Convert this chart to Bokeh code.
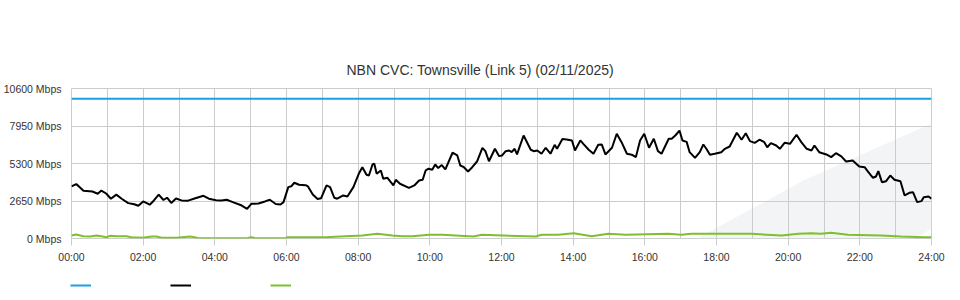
from bokeh.plotting import figure
from bokeh.layouts import column
from bokeh.models import FixedTicker, PrintfTickFormatter, Legend, LegendItem, PolyAnnotation
from bokeh.embed import file_html
from bokeh.resources import INLINE

title_text = "NBN CVC: Townsville (Link 5) (02/11/2025)"

# y axis ticks (Mbps) and x axis ticks (minutes since midnight)
y_ticks = [0, 2650, 5300, 7950, 10600]
x_tick_minutes = [0, 120, 240, 360, 480, 600, 720, 840, 960, 1080, 1200, 1320, 1440]
x_tick_labels = ["00:00", "02:00", "04:00", "06:00", "08:00", "10:00", "12:00",
                 "14:00", "16:00", "18:00", "20:00", "22:00", "24:00"]
x_grid_minutes = list(range(0, 1441, 60))

# capacity (blue)
cap_min = [0, 1440]
cap_mbps = [9870, 9870]

# download / traffic (black)
dl_min = [0, 8, 20, 35, 44, 50, 58, 66, 75, 84,
          95, 105, 112, 120, 131, 138, 146, 154, 160, 167,
          175, 184, 194, 206, 221, 230, 242, 251, 260, 270,
          283, 294, 301, 313, 324, 332, 342, 350, 355, 363,
          368, 373, 381, 392, 396, 404, 412, 418, 427, 433,
          440, 445, 455, 462, 472, 481, 487, 494, 498, 504,
          507, 511, 518, 522, 529, 539, 543, 550, 565, 574,
          582, 588, 593, 598, 604, 609, 614, 620, 626, 638,
          646, 651, 657, 664, 671, 679, 688, 693, 699, 709,
          716, 721, 727, 733, 737, 742, 746, 757, 769, 774,
          780, 787, 794, 802, 809, 813, 822, 829, 838, 843,
          852, 857, 866, 874, 882, 888, 894, 905, 913, 921,
          930, 938, 945, 952, 959, 967, 975, 982, 988, 1000,
          1005, 1011, 1018, 1023, 1030, 1035, 1044, 1052, 1058, 1063,
          1069, 1077, 1088, 1094, 1102, 1114, 1122, 1129, 1136, 1144,
          1152, 1160, 1165, 1171, 1180, 1186, 1194, 1203, 1214, 1222,
          1231, 1239, 1244, 1252, 1264, 1272, 1280, 1289, 1297, 1308,
          1319, 1328, 1333, 1342, 1347, 1351, 1357, 1364, 1371, 1378,
          1388, 1395, 1403, 1409, 1416, 1423, 1427, 1435, 1440]
dl_mbps = [3680, 3850, 3370, 3320, 3160, 3390, 3180, 2810, 3100, 2810,
           2500, 2420, 2310, 2620, 2390, 2690, 3100, 2720, 2880, 2510,
           2830, 2690, 2660, 2830, 3020, 2810, 2710, 2690, 2740, 2570,
           2370, 2090, 2450, 2470, 2620, 2740, 2440, 2400, 2570, 3630,
           3690, 3940, 3800, 3770, 3680, 3110, 2790, 2850, 3750, 3630,
           2880, 2810, 3040, 2970, 3630, 4570, 5040, 4500, 4450, 5230,
           5280, 4570, 4810, 4220, 4290, 3750, 4150, 3870, 3580, 3750,
           4100, 4150, 4810, 4930, 4860, 5230, 4980, 5190, 4880, 6060,
           5870, 5160, 5040, 4740, 5040, 5440, 6410, 6170, 5460, 6340,
           5820, 5870, 6170, 6220, 6100, 6340, 5940, 7280, 6270, 6170,
           6220, 5990, 6410, 5990, 6620, 6340, 7030, 7000, 6930, 6220,
           6930, 6690, 6270, 5990, 6620, 6640, 5940, 6410, 7400, 6810,
           5990, 5920, 5750, 6930, 7400, 6410, 7050, 6170, 5990, 7050,
           7050, 7280, 7630, 6930, 6830, 6100, 5700, 6100, 6640, 6340,
           5920, 5990, 6100, 6340, 6500, 7470, 6980, 7440, 6880, 6760,
           6980, 6810, 6450, 6740, 6570, 6340, 6760, 6690, 7330, 6810,
           6340, 6220, 6570, 6100, 5940, 5750, 6030, 5800, 5440, 5510,
           5090, 5040, 4760, 4290, 4380, 4760, 3980, 4050, 4450, 4150,
           4050, 3040, 3230, 3270, 2570, 2640, 2920, 2970, 2810]

# upload (green)
ul_min = [0, 8, 20, 31, 42, 50, 59, 64, 75, 92,
          100, 120, 134, 142, 151, 176, 198, 206, 214, 292,
          301, 309, 357, 362, 412, 425, 459, 487, 512, 537,
          554, 571, 599, 621, 673, 687, 777, 787, 815, 841,
          871, 899, 928, 1000, 1021, 1038, 1139, 1189, 1217, 1239,
          1255, 1272, 1300, 1356, 1389, 1428, 1440]
ul_mbps = [210, 280, 160, 140, 210, 160, 90, 190, 160, 160,
           90, 50, 140, 140, 50, 50, 140, 90, 10, 10,
           90, 10, 10, 90, 90, 90, 160, 210, 330, 210,
           160, 160, 260, 260, 140, 260, 140, 260, 260, 370,
           160, 330, 260, 330, 260, 330, 330, 210, 330, 370,
           330, 400, 260, 210, 140, 90, 90]

FONT = "Liberation Sans"
GRID = "#cccccc"
C_CAP, C_DL, C_UL = "#1a9fe0", "#000000", "#7dc02c"

p = figure(width=960, height=270, frame_width=860, frame_height=150,
           x_range=(0, 1440), y_range=(0, 10600),
           output_backend="svg", toolbar_location=None,
           min_border_left=70, min_border_right=30,
           min_border_top=88, min_border_bottom=32,
           title=title_text)
p.outline_line_color = GRID
p.background_fill_color = None
p.border_fill_color = "white"

# faint watermark (decoration) in canvas pixels
wm1 = PolyAnnotation(xs=[602, 693, 803, 933, 960, 960, 910, 802],
                     ys=[300, 240, 180, 122, 110, 212, 240, 300],
                     xs_units="canvas", ys_units="canvas",
                     fill_color="#e6e9ee", fill_alpha=0.5, line_color=None,
                     level="underlay")
p.center = [wm1] + list(p.center)

p.title.text_font = FONT
p.title.text_font_size = "14px"
p.title.text_font_style = "normal"
p.title.text_color = "#333333"
p.title.align = "left"
p.title.offset = 275
p.title.standoff = 22

# x axis
p.xaxis.ticker = FixedTicker(ticks=x_tick_minutes, minor_ticks=[])
p.xaxis.major_label_overrides = {m: l for m, l in zip(x_tick_minutes, x_tick_labels)}
p.xaxis.axis_line_color = None
p.xaxis.major_tick_line_color = GRID
p.xaxis.major_tick_out = 7
p.xaxis.major_tick_in = 0
p.xaxis.minor_tick_line_color = None
p.xaxis.major_label_standoff = 5
p.xaxis.major_label_text_font = FONT
p.xaxis.major_label_text_font_size = "10.5px"
p.xaxis.major_label_text_color = "#333333"

# y axis
p.yaxis.ticker = FixedTicker(ticks=y_ticks, minor_ticks=[])
p.yaxis.formatter = PrintfTickFormatter(format="%d Mbps")
p.yaxis.axis_line_color = None
p.yaxis.major_tick_line_color = None
p.yaxis.major_tick_out = 0
p.yaxis.major_tick_in = 0
p.yaxis.minor_tick_line_color = None
p.yaxis.major_label_standoff = 10
p.yaxis.major_label_text_font = FONT
p.yaxis.major_label_text_font_size = "10.5px"
p.yaxis.major_label_text_color = "#333333"

p.xgrid.ticker = FixedTicker(ticks=x_grid_minutes, minor_ticks=[])
p.ygrid.ticker = FixedTicker(ticks=y_ticks, minor_ticks=[])
p.xgrid.grid_line_color = GRID
p.ygrid.grid_line_color = GRID

p.line(cap_min, cap_mbps, line_color=C_CAP, line_width=2)
p.line(dl_min, dl_mbps, line_color=C_DL, line_width=2)
p.line(ul_min, ul_mbps, line_color=C_UL, line_width=2)

# legend strip below the chart (swatches only, as in the reference).
# The strip's ranges keep the series themselves out of view; only the legend keys show.
lg = figure(width=960, height=30, frame_width=960, frame_height=30,
            x_range=(-1, -0.5), y_range=(-1, -0.5),
            output_backend="svg", toolbar_location=None,
            x_axis_location=None, y_axis_location=None,
            min_border=0)
lg.grid.visible = False
lg.outline_line_color = None
lg.background_fill_color = None
lg.border_fill_color = "white"
l_cap = lg.line(cap_min, cap_mbps, line_color=C_CAP, line_width=2)
l_dl = lg.line(dl_min, dl_mbps, line_color=C_DL, line_width=2)
l_ul = lg.line(ul_min, ul_mbps, line_color=C_UL, line_width=2)
legend = Legend(items=[LegendItem(label=" ", renderers=[l_cap]),
                       LegendItem(label=" ", renderers=[l_dl]),
                       LegendItem(label=" ", renderers=[l_ul])],
                location=(70, 13), orientation="horizontal",
                glyph_width=21, glyph_height=4, label_width=79, label_height=4,
                label_standoff=0, spacing=0, padding=0, margin=0,
                border_line_color=None, background_fill_alpha=0,
                label_text_font_size="1px")
lg.add_layout(legend, "center")

layout = column(p, lg, spacing=0)
open("out.html", "w").write(file_html(layout, INLINE))
